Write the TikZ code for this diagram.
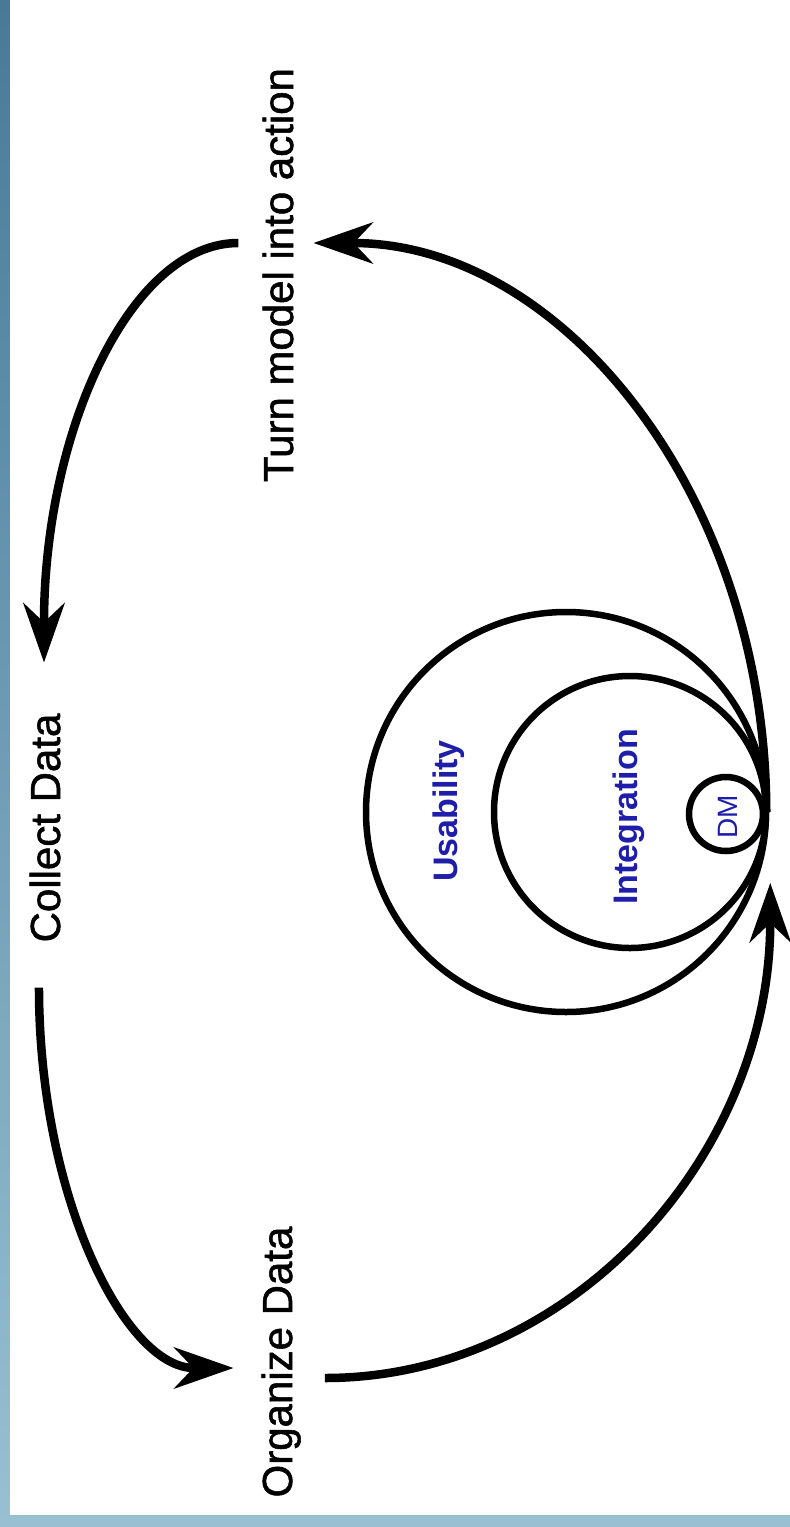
\documentclass[tikz,border=0pt]{standalone}
\usepackage{fontspec}
\setmainfont{Liberation Sans}
\usepackage{xcolor}
\usepackage{tikz}
\usetikzlibrary{
    positioning,
    arrows.meta,
    calc,
}
\definecolor{ringblue}{RGB}{30,30,170}
\definecolor{stripdark}{RGB}{72,122,152}
\definecolor{striplight}{RGB}{152,192,210}
\tikzset{
    % Text styles
    steplabel/.style={rotate=90, anchor=base, inner sep=0pt,
                      font=\fontsize{42}{50}\selectfont\addfontfeatures{FakeBold=1.3}},
    ringlabel/.style={steplabel, text=ringblue,
                      font=\fontsize{34}{40}\selectfont\bfseries},
    % Circle styles
    ring/.style={circle, draw, line width=6.5pt, inner sep=0pt},
    % Arrow styles
    flow/.style={-{Stealth[length=60pt, width=42pt, inset=20pt, line width=2pt]},
                 line width=8.5pt},
}

\begin{document}
\begin{tikzpicture}[x=1pt, y=-1pt]
    % Frame
    \useasboundingbox (0,0) rectangle (790,1527);
    \shade[top color=stripdark, bottom color=striplight] (0,0) rectangle (790,1527);
    \fill[white] (10,0) rectangle (790,1515);

    % Steps
    \node[steplabel] (turn) at (293,275) {Turn model into action};
    \node[steplabel] (collect) at (60,828) {Collect Data};
    \node[steplabel] (organize) at (292,1362) {Organize Data};

    % Rings
    \node[ring, minimum size=400pt] (usab) at (566,812) {};
    \node[ring, minimum size=272pt] (integ) at (630,812) {};
    \node[ring, minimum size=74pt] (dm) at (726,814) {};
    \node[ringlabel] (usabtext) at (457,811) {Usability};
    \node[ringlabel] (integtext) at (637,817) {Integration};
    \node[steplabel, text=ringblue, font=\fontsize{28}{32}\selectfont] (dmtext) at (737,817) {DM};

    % Arrows
    \draw[flow] ($(turn.north)+(-24,-32)$) .. controls +(-108,0) and +(0,-231) .. ($(collect.east)+(-1,-51)$);
    \draw[flow] ($(collect.west)+(-6,45)$) .. controls +(0,210) and +(-108,0) .. ($(organize.north)+(-28,6)$);
    \draw[flow] ($(organize.south)+(24,16)$) .. controls +(246,0) and +(0,273) .. ($(usab.east)+(1,71)$);
    \draw[flow] ($(usab.east)+(-3,0)$) .. controls +(0,-314) and +(250,0) .. ($(turn.south)+(20,-32)$);
\end{tikzpicture}
\end{document}
